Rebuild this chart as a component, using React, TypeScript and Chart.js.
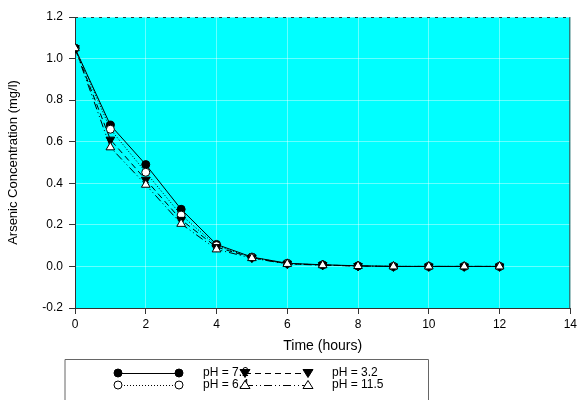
import React, { useEffect, useRef } from "react";
import { Chart, registerables } from "chart.js";

Chart.register(...registerables);

const hours = [0, 1, 2, 3, 4, 5, 6, 7, 8, 9, 10, 11, 12];
const ph72 = [1.05, 0.68, 0.49, 0.275, 0.106, 0.045, 0.015, 0.008, 0.003, 0.0, 0.0, 0.0, 0.0];
const ph64 = [1.05, 0.66, 0.453, 0.247, 0.1, 0.043, 0.014, 0.007, 0.002, 0.0, 0.0, 0.0, 0.0];
const ph32 = [1.05, 0.61, 0.417, 0.224, 0.093, 0.042, 0.013, 0.007, 0.002, 0.0, 0.0, 0.0, 0.0];
const ph115 = [1.05, 0.573, 0.393, 0.205, 0.082, 0.04, 0.012, 0.006, 0.002, 0.0, 0.0, 0.0, 0.0];
const seriesLabels = ["pH = 7.2", "pH = 6.4", "pH = 3.2", "pH = 11.5"];
const xTitle = "Time (hours)";
const yTitle = "Arsenic Concentration (mg/l)";

const FONT = "Arial, 'Liberation Sans', Helvetica, sans-serif";

type Marker = { shape: "circle" | "tri-up" | "tri-down"; fill: string; dash: number[] };
const markers: Marker[] = [
  { shape: "circle", fill: "#000", dash: [] },
  { shape: "circle", fill: "#fff", dash: [1, 2] },
  { shape: "tri-down", fill: "#000", dash: [6, 4] },
  { shape: "tri-up", fill: "#fff", dash: [8, 3, 1, 3, 1, 3] },
];

function drawMarker(ctx: CanvasRenderingContext2D, m: Marker, x: number, y: number) {
  ctx.save();
  ctx.setLineDash([]);
  ctx.fillStyle = m.fill;
  ctx.strokeStyle = "#000";
  ctx.lineWidth = 1;
  ctx.beginPath();
  if (m.shape === "circle") {
    ctx.arc(x, y, 4, 0, Math.PI * 2);
  } else if (m.shape === "tri-up") {
    ctx.moveTo(x, y - 4.5);
    ctx.lineTo(x + 5, y + 3.5);
    ctx.lineTo(x - 5, y + 3.5);
    ctx.closePath();
  } else {
    ctx.moveTo(x, y + 4.5);
    ctx.lineTo(x + 5, y - 3.5);
    ctx.lineTo(x - 5, y - 3.5);
    ctx.closePath();
  }
  ctx.fill();
  ctx.stroke();
  ctx.restore();
}

const bgPlugin = {
  id: "plotBg",
  beforeDraw(chart: any) {
    const { ctx, chartArea: a } = chart;
    ctx.save();
    ctx.fillStyle = "#fff";
    ctx.fillRect(0, 0, chart.width, chart.height);
    ctx.fillStyle = "#00FFFF";
    ctx.fillRect(a.left, a.top, a.right - a.left, a.bottom - a.top);
    ctx.restore();
  },
  afterDraw(chart: any) {
    const { ctx, chartArea: a } = chart;
    ctx.save();
    // top dotted border
    ctx.strokeStyle = "#333";
    ctx.lineWidth = 1;
    ctx.setLineDash([3, 5]);
    ctx.beginPath();
    ctx.moveTo(a.left, a.top + 0.5);
    ctx.lineTo(a.right, a.top + 0.5);
    ctx.stroke();
    // right border
    ctx.setLineDash([]);
    ctx.strokeStyle = "#444";
    ctx.beginPath();
    ctx.moveTo(a.right - 0.5, a.top);
    ctx.lineTo(a.right - 0.5, a.bottom);
    ctx.stroke();

    // legend
    const boxL = a.left - 10;
    const boxR = 428;
    const boxT = a.bottom + 51;
    ctx.strokeStyle = "#666";
    ctx.beginPath();
    ctx.moveTo(boxL, chart.height + 2);
    ctx.lineTo(boxL, boxT + 0.5);
    ctx.lineTo(boxR + 0.5, boxT + 0.5);
    ctx.lineTo(boxR + 0.5, chart.height + 2);
    ctx.stroke();

    const rows = [boxT + 14, boxT + 26];
    const cols = [
      { x1: 118, x2: 179, tx: 203 },
      { x1: 245, x2: 308, tx: 332 },
    ];
    const slots = [
      [0, 0],
      [1, 0],
      [0, 1],
      [1, 1],
    ];
    ctx.font = `12px ${FONT}`;
    ctx.textBaseline = "middle";
    ctx.textAlign = "left";
    slots.forEach(([r, c], i) => {
      const m = markers[i];
      const y = rows[r];
      const col = cols[c];
      ctx.save();
      ctx.strokeStyle = "#000";
      ctx.lineWidth = 1;
      ctx.setLineDash(m.dash);
      ctx.beginPath();
      ctx.moveTo(col.x1, y + 0.5);
      ctx.lineTo(col.x2, y + 0.5);
      ctx.stroke();
      ctx.restore();
      ctx.fillStyle = "#000";
      ctx.fillText(seriesLabels[i], col.tx, y);
      drawMarker(ctx, m, col.x1, y);
      drawMarker(ctx, m, col.x2, y);
    });
    ctx.restore();
  },
};

export default function App() {
  const ref = useRef<HTMLCanvasElement>(null);
  useEffect(() => {
    if (!ref.current) return;
    const mk = (data: number[], i: number, order: number) => {
      const m = markers[i];
      return {
        label: seriesLabels[i],
        data: hours.map((h, k) => ({ x: h, y: data[k] })),
        borderColor: "#000",
        borderWidth: 1,
        borderDash: m.dash,
        backgroundColor: m.fill,
        pointBackgroundColor: m.fill,
        pointBorderColor: "#000",
        pointBorderWidth: 1,
        pointRadius: m.shape === "circle" ? 4 : 5,
        pointStyle: m.shape === "circle" ? "circle" : "triangle",
        pointRotation: m.shape === "tri-down" ? 180 : 0,
        tension: 0,
        fill: false,
        order,
      };
    };
    const chart = new Chart(ref.current, {
      type: "line",
      data: {
        datasets: [mk(ph72, 0, 3), mk(ph64, 1, 2), mk(ph32, 2, 1), mk(ph115, 3, 0)] as any,
      },
      options: {
        animation: false,
        responsive: true,
        maintainAspectRatio: false,
        layout: { padding: { left: 0, right: 8, top: 17, bottom: 42 } },
        plugins: { legend: { display: false }, tooltip: { enabled: false } },
        scales: {
          x: {
            type: "linear",
            min: 0,
            max: 14,
            ticks: { stepSize: 2, color: "#000", font: { family: FONT, size: 12 }, padding: 3, maxRotation: 0 },
            grid: { color: "rgba(255,255,255,0.4)", tickColor: "#333", tickLength: 6, drawTicks: true },
            border: { color: "#333", width: 1 },
            title: { display: true, text: xTitle, color: "#000", font: { family: FONT, size: 14 }, padding: { top: 0, bottom: 3 } },
            afterFit: (s: any) => {
              s.height = 50;
            },
          },
          y: {
            type: "linear",
            min: -0.2,
            max: 1.2,
            ticks: {
              stepSize: 0.2,
              color: "#000",
              font: { family: FONT, size: 12 },
              padding: 6,
              callback: (v: any) => {
                const n = Number(v);
                return Math.abs(n) < 1e-9 ? "0.0" : n.toFixed(1);
              },
            },
            grid: { color: "rgba(255,255,255,0.4)", tickColor: "#333", tickLength: 6 },
            border: { color: "#333", width: 1 },
            title: { display: true, text: yTitle, color: "#000", font: { family: FONT, size: 13 }, padding: { top: 6, bottom: 0 } },
            afterFit: (s: any) => {
              s.width = 75;
            },
          },
        },
      },
      plugins: [bgPlugin],
    } as any);
    return () => chart.destroy();
  }, []);
  return (
    <div style={{ position: "fixed", left: 0, top: 0, width: 580, height: 400, background: "#fff" }}>
      <canvas ref={ref} />
    </div>
  );
}
